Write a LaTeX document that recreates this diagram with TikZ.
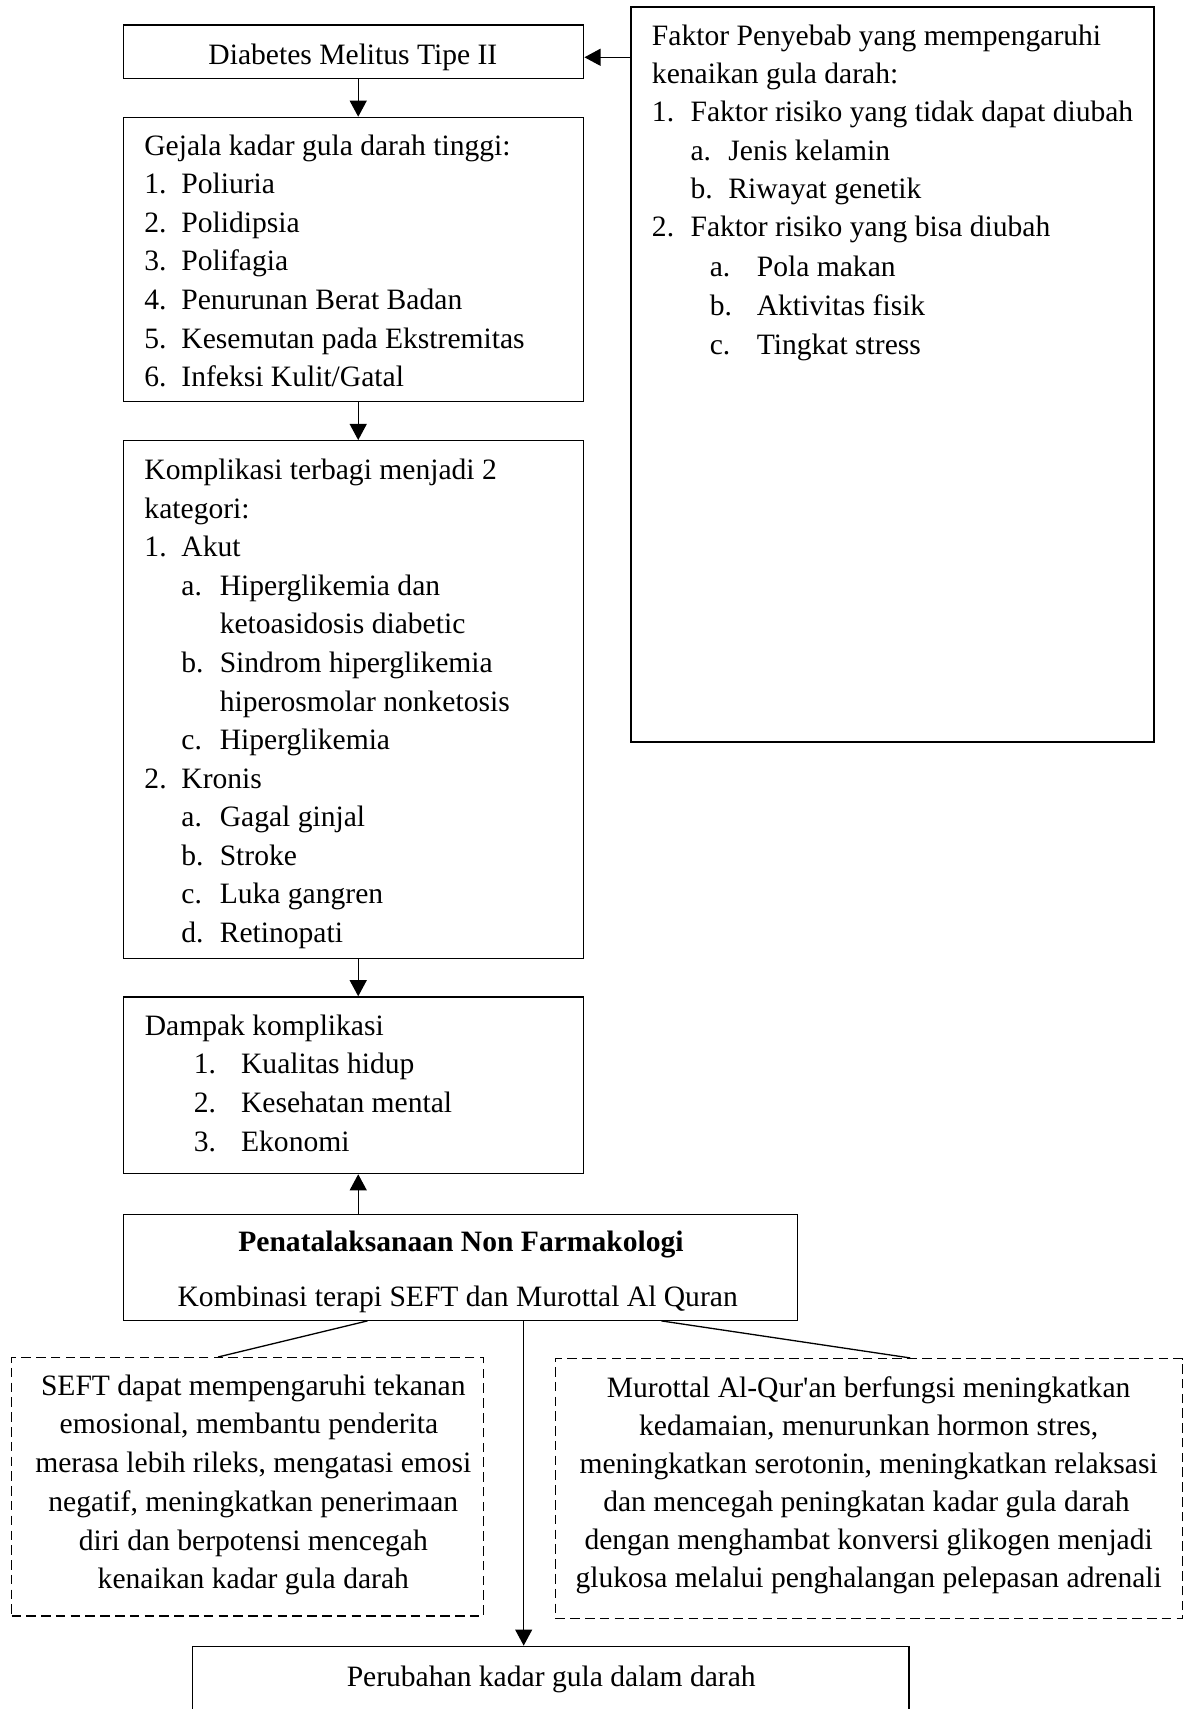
\documentclass[tikz,border=0pt]{standalone}
\usepackage{fontspec}
\setmainfont{Liberation Serif}
\usetikzlibrary{arrows.meta,fit}
\newcommand{\myline}[4]{\node[lt] (#1) at (#2,#3) {#4};}
\newcommand{\myitem}[6]{\node[lt] (#1) at (#2,#3) {\makebox[#4][l]{#5}#6};}
\newcommand{\mycline}[4]{\node[ct] (#1) at (#2,#3) {#4};}
\begin{document}
\begin{tikzpicture}[x=0.5pt,y=-0.5pt,
  box/.style={draw,line width=0.6pt,inner sep=0pt},
  dbox/.style={draw,line width=0.6pt,inner sep=0pt,dash pattern=on 4.4pt off 2.4pt},
  txt/.style={inner sep=0pt,font=\fontsize{13.6}{17.75}\selectfont},
  lt/.style={txt,anchor=base west},
  ct/.style={txt,anchor=base},
  arr/.style={line width=0.6pt,-{Triangle[length=7.4pt,width=7.8pt]}},
  conn/.style={line width=0.6pt}]
\useasboundingbox (0,0) rectangle (1090,1572);

% boxes
\node[box,fit={(113.4,23) (537,72.4)}] (diab) {};
\node[box,fit={(113.4,108) (537,369)}] (gejala) {};
\node[box,fit={(113.4,405.4) (537,881.5)}] (komp) {};
\node[box,fit={(113.4,917) (537,1079.5)}] (dampak) {};
\node[box,fit={(113.4,1117) (733.3,1214.4)}] (penata) {};
\node[box,line width=0.9pt,fit={(580,6.7) (1061.7,682.3)}] (faktor) {};
\node[dbox,fit={(10.6,1248.8) (444.7,1486.4)}] (seft) {};
\node[dbox,fit={(511,1249.7) (1088,1488.8)}] (murottal) {};
\node[box,fit={(177,1514.3) (836,1600)}] (perub) {};

% Diabetes
\mycline{d0}{324.6}{59}{Diabetes Melitus Tipe II}

% Gejala
\myline{g0}{132.4}{142.7}{Gejala kadar gula darah tinggi:}
\myitem{g1}{132.4}{178.2}{17.05pt}{1.}{Poliuria}
\myitem{g2}{132.4}{213.7}{17.05pt}{2.}{Polidipsia}
\myitem{g3}{132.4}{249.2}{17.05pt}{3.}{Polifagia}
\myitem{g4}{132.4}{284.7}{17.05pt}{4.}{Penurunan Berat Badan}
\myitem{g5}{132.4}{320.2}{17.05pt}{5.}{Kesemutan pada Ekstremitas}
\myitem{g6}{132.4}{355.7}{17.05pt}{6.}{Infeksi Kulit/Gatal}

% Komplikasi
\myline{k0}{132.5}{441}{Komplikasi terbagi menjadi 2}
\myline{k1}{132.5}{476.5}{kategori:}
\myitem{k2}{132.5}{512}{17pt}{1.}{Akut}
\myitem{k3}{166.5}{547.5}{17.65pt}{a.}{Hiperglikemia dan}
\myline{k4}{201.8}{583}{ketoasidosis diabetic}
\myitem{k5}{166.5}{618.5}{17.65pt}{b.}{Sindrom hiperglikemia}
\myline{k6}{201.8}{654}{hiperosmolar nonketosis}
\myitem{k7}{166.5}{689.5}{17.65pt}{c.}{Hiperglikemia}
\myitem{k8}{132.5}{725}{17pt}{2.}{Kronis}
\myitem{k9}{166.5}{760.5}{17.65pt}{a.}{Gagal ginjal}
\myitem{k10}{166.5}{796}{17.65pt}{b.}{Stroke}
\myitem{k11}{166.5}{831.5}{17.65pt}{c.}{Luka gangren}
\myitem{k12}{166.5}{867}{17.65pt}{d.}{Retinopati}

% Dampak
\myline{dp0}{132.8}{952.2}{Dampak komplikasi}
\myitem{dp1}{177.9}{987.6}{21.75pt}{1.}{Kualitas hidup}
\myitem{dp2}{177.9}{1023}{21.75pt}{2.}{Kesehatan mental}
\myitem{dp3}{177.9}{1059.5}{21.75pt}{3.}{Ekonomi}

% Faktor
\myline{f0}{599.3}{41.4}{Faktor Penyebab yang mempengaruhi}
\myline{f1}{599.3}{76.7}{kenaikan gula darah:}
\myitem{f2}{599.3}{112}{17.75pt}{1.}{Faktor risiko yang tidak dapat diubah}
\myitem{f3}{634.8}{147.3}{17.4pt}{a.}{Jenis kelamin}
\myitem{f4}{634.8}{182.6}{17.4pt}{b.}{Riwayat genetik}
\myitem{f5}{599.3}{217.9}{17.75pt}{2.}{Faktor risiko yang bisa diubah}
\myitem{f6}{652.5}{254.5}{21.65pt}{a.}{Pola makan}
\myitem{f7}{652.5}{290}{21.65pt}{b.}{Aktivitas fisik}
\myitem{f8}{652.5}{326}{21.65pt}{c.}{Tingkat stress}

% Penatalaksanaan
\mycline{p0}{424}{1151.5}{\bfseries Penatalaksanaan Non Farmakologi}
\mycline{p1}{421}{1202.2}{Kombinasi terapi SEFT dan Murottal Al Quran}

% SEFT
\mycline{s1}{233}{1283.4}{SEFT dapat mempengaruhi tekanan}
\mycline{s2}{229}{1319}{emosional, membantu penderita}
\mycline{s3}{233}{1354.6}{merasa lebih rileks, mengatasi emosi}
\mycline{s4}{233}{1390.2}{negatif, meningkatkan penerimaan}
\mycline{s5}{233}{1425.8}{diri dan berpotensi mencegah}
\mycline{s6}{233}{1461.4}{kenaikan kadar gula darah}

% Murottal
\mycline{m1}{799}{1285}{Murottal Al-Qur\textquotesingle an berfungsi meningkatkan}
\mycline{m2}{799}{1320.1}{kedamaian, menurunkan hormon stres,}
\mycline{m3}{799}{1355.2}{meningkatkan serotonin, meningkatkan relaksasi}
\mycline{m4}{797}{1390.3}{dan mencegah peningkatan kadar gula darah}
\mycline{m5}{799}{1425.4}{dengan menghambat konversi glikogen menjadi}
\mycline{m6}{799}{1460.5}{glukosa melalui penghalangan pelepasan adrenali}

% Perubahan
\mycline{r0}{507}{1551.7}{Perubahan kadar gula dalam darah}

% connectors
\coordinate (ax) at (329.5,0);
\coordinate (ay) at (0,52.7);
\coordinate (vx) at (481.7,0);
\coordinate (sx1) at (338,0);
\coordinate (sx2) at (200.6,0);
\coordinate (mx1) at (608.4,0);
\coordinate (mx2) at (837.4,0);

\draw[arr] (faktor.west |- ay) -- (diab.east |- ay);
\draw[arr] (diab.south -| ax) -- (gejala.north -| ax);
\draw[arr] (gejala.south -| ax) -- (komp.north -| ax);
\draw[arr] (komp.south -| ax) -- (dampak.north -| ax);
\draw[arr] (penata.north -| ax) -- (dampak.south -| ax);
\draw[arr] (penata.south -| vx) -- (perub.north -| vx);
\draw[conn] (penata.south -| sx1) -- (seft.north -| sx2);
\draw[conn] (penata.south -| mx1) -- (murottal.north -| mx2);
\end{tikzpicture}
\end{document}
